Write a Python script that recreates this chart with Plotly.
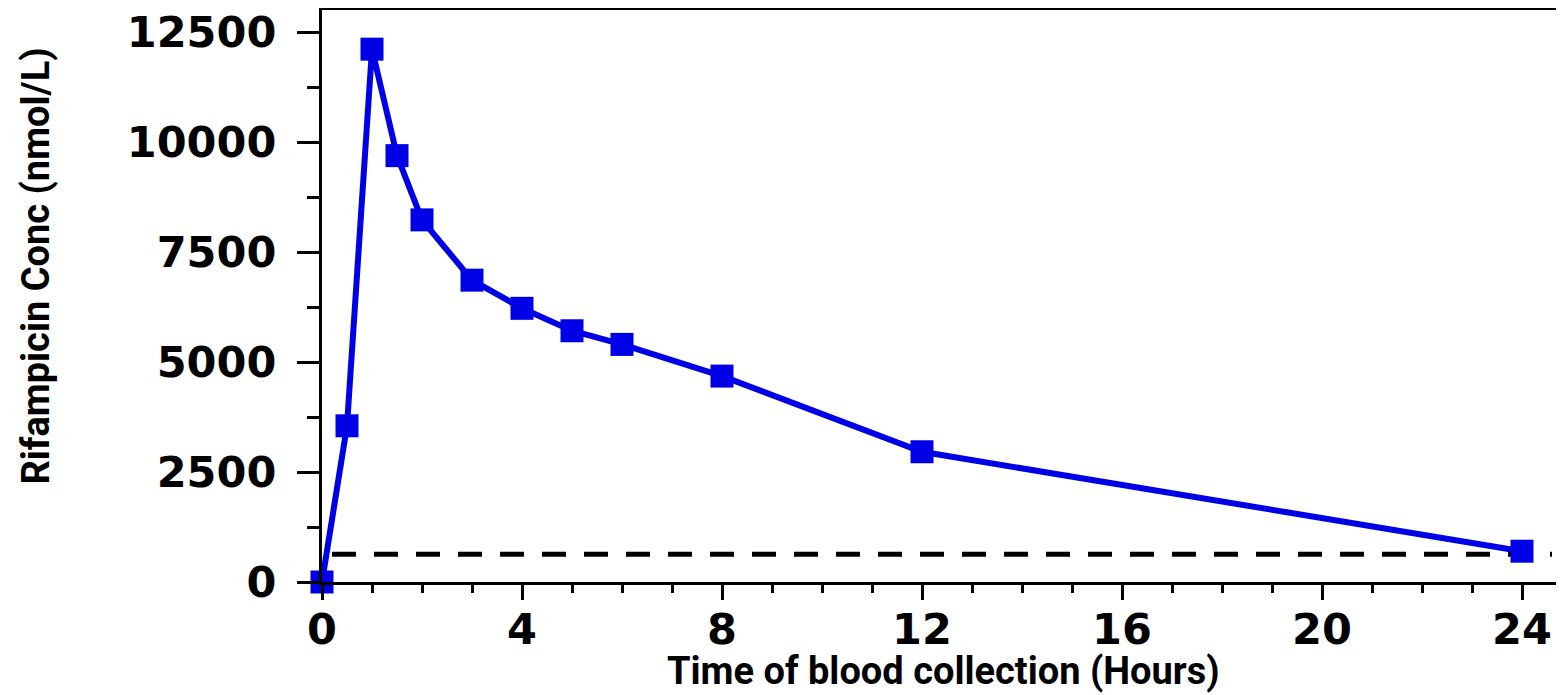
import plotly.graph_objects as go

# Data
time_h = [0, 0.5, 1, 1.5, 2, 3, 4, 5, 6, 8, 12, 24]
conc = [0, 3550, 12110, 9690, 8230, 6860, 6220, 5710, 5400, 4680, 2960, 700]
threshold = 630
threshold_x = [0.2, 24.6]
x_ticks = [0, 4, 8, 12, 16, 20, 24]
y_ticks = [0, 2500, 5000, 7500, 10000, 12500]

BLUE = "#0000e6"
TICK_FONT = dict(family="DejaVu Sans", size=43, color="black", weight="bold")
TITLE_FONT = dict(family="Liberation Sans Narrow, Arial Narrow, Roboto, sans-serif", size=38, color="black")

fig = go.Figure()

fig.add_trace(go.Scatter(
    x=threshold_x, y=[threshold, threshold], mode="lines",
    line=dict(color="black", width=5, dash="24px,18px"),
    hoverinfo="skip", showlegend=False,
))

fig.add_trace(go.Scatter(
    x=time_h, y=conc, mode="lines+markers",
    line=dict(color=BLUE, width=6),
    marker=dict(symbol="square", size=23, color=BLUE),
    cliponaxis=False, showlegend=False,
))

fig.update_xaxes(
    range=[0, 24.84], tickvals=x_ticks, ticktext=[str(v) for v in x_ticks],
    ticks="outside", ticklen=15, tickwidth=3, tickcolor="black",
    minor=dict(dtick=1, tick0=0, ticks="outside", ticklen=8, tickwidth=3, tickcolor="black"),
    showline=True, linewidth=3, linecolor="black", mirror=True,
    showgrid=False, zeroline=False,
    tickfont=TICK_FONT, ticklabelstandoff=-8, ticklabeloverflow="allow",
)
fig.update_yaxes(
    range=[0, 13000], tickvals=y_ticks, ticktext=[str(v) for v in y_ticks],
    ticks="outside", ticklen=22, tickwidth=3, tickcolor="black",
    minor=dict(dtick=1250, tick0=0, ticks="outside", ticklen=12, tickwidth=3, tickcolor="black"),
    showline=True, linewidth=3, linecolor="black",
    showgrid=False, zeroline=False,
    tickfont=TICK_FONT, ticklabelstandoff=12, ticklabeloverflow="allow",
)

fig.add_annotation(
    text="<b>Time of blood collection (Hours)</b>", xref="paper", yref="paper",
    x=0.5, y=-0.155, xanchor="center", yanchor="middle", showarrow=False,
    font=TITLE_FONT,
)
fig.add_annotation(
    text="<b>Rifampicin Conc (nmol/L)</b>", xref="paper", yref="paper",
    x=-0.23, y=0.552, xanchor="center", yanchor="middle", showarrow=False,
    textangle=-90, font=TITLE_FONT,
)

# page body has an 8px margin; figure sized so the plot area lands where the reference has it
fig.update_layout(
    width=1556, height=687,
    margin=dict(l=314, r=0, t=2, b=113),
    plot_bgcolor="white", paper_bgcolor="white",
)

fig.write_html("out.html")
